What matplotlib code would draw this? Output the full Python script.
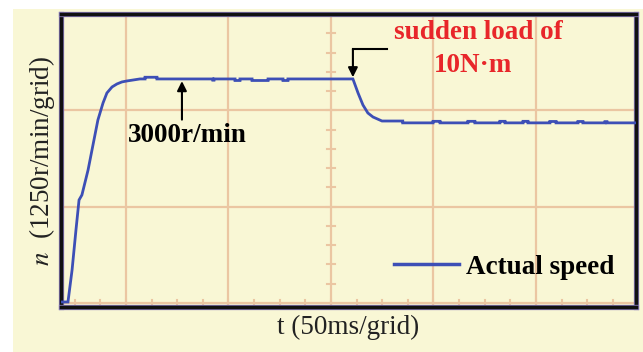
import numpy as np
import matplotlib
matplotlib.use("Agg")
import matplotlib.pyplot as plt
from matplotlib.patches import Rectangle
import matplotlib.patheffects as pe

plt.rcParams["font.family"] = ["Liberation Serif", "DejaVu Serif"]
plt.rcParams["mathtext.fontset"] = "stix"

# Measured speed trace: time in ms, speed in r/min
t_ms = [18.3, 21.7, 23.7, 25.6, 27.1, 28.5, 31.5, 33.9, 36.3, 38.8, 40.7,
        43.2, 45.6, 48.0, 50.5, 56.8,
        59.3, 59.3, 65.1, 65.1, 92.4, 92.4, 92.9, 92.9,
        103.2, 103.2, 105.6, 105.6, 111.5, 111.5, 119.3, 119.3,
        126.6, 126.6, 129.0, 129.0,
        160.7, 163.2, 165.6, 168.0, 170.5, 174.9,
        185.0, 185.0, 199.8, 199.8, 203.2, 203.2,
        216.8, 216.8, 220.2, 220.2, 232.4, 232.4, 234.9, 234.9,
        243.7, 243.7, 246.1, 246.1, 256.8, 256.8, 259.8, 259.8,
        270.5, 270.5, 272.9, 272.9, 283.7, 283.7, 284.6, 284.6, 298.8]
speed = [13, 13, 428, 948, 1337, 1402, 1726, 2051, 2375, 2596, 2726,
         2804, 2843, 2869, 2882, 2908,
         2908, 2930, 2930, 2908, 2908, 2892, 2892, 2908,
         2908, 2888, 2888, 2908, 2908, 2888, 2888, 2908,
         2908, 2888, 2888, 2908,
         2908, 2726, 2570, 2466, 2414, 2362,
         2362, 2338, 2338, 2358, 2358, 2338,
         2338, 2358, 2358, 2338, 2338, 2358, 2358, 2338,
         2338, 2358, 2358, 2338, 2338, 2356, 2356, 2338,
         2338, 2356, 2356, 2338, 2338, 2354, 2354, 2338, 2338]

series_label = "Actual speed"
x_label = "t (50ms/grid)"
y_label = r"$n$  (1250r/min/grid)"
load_line1 = "sudden load of"
load_line2 = "10N·m"
speed_text = "3000r/min"

# Scope scale: 50 ms per division, 1250 r/min per division
t_div, n_div = 50, 1250
t_range = (18.3, 298.8)
n_range = (-52, 3751)

bg = "#f9f7d5"
grid_c = "#ebc6a2"
line_c = "#3d4fb6"
fs = 19.5

fig = plt.figure(figsize=(6.43, 3.52), dpi=100, facecolor="white")
fig.patches.append(Rectangle((13 / 643, 0), 1, 343 / 352, transform=fig.transFigure,
                             facecolor=bg, edgecolor="none", zorder=-5))
ax = fig.add_axes([61 / 643, 45 / 352, 575 / 643, 293 / 352])
ax.set_zorder(2)
ax.set_facecolor(bg)
ax.set_xlim(*t_range)
ax.set_ylim(*n_range)

# Division grid
for tv in np.arange(t_div, t_range[1], t_div):
    ax.axvline(tv, color=grid_c, lw=1.6, zorder=1)
for nv in np.arange(0, n_range[1], n_div):
    ax.axhline(nv, color=grid_c, lw=1.6, zorder=1)

# Sub-division tick marks on the bottom line and the centre vertical line
t_center = 150
for tv in np.arange(t_div / 2, t_range[1], t_div / 4):
    ax.plot([tv, tv], [-45, 45], color=grid_c, lw=1.5, zorder=1)
for nv in np.arange(n_div / 5, n_range[1], n_div / 5):
    ax.plot([t_center - 2, t_center + 2], [nv, nv], color=grid_c, lw=1.5, zorder=1)

ax.plot(t_ms, speed, color=line_c, lw=2.0, zorder=3, label=series_label,
        solid_joinstyle="miter")

ax.set_xticks([])
ax.set_yticks([])
for s in ax.spines.values():
    s.set_color("#111111")
    s.set_linewidth(2.4)
    s.set_path_effects([pe.withStroke(linewidth=3.8, foreground="#8a7cbf"), pe.Normal()])

ax.set_xlabel(x_label, fontsize=fs, labelpad=6, color="#222222")
ax.set_ylabel(y_label, fontsize=fs, labelpad=3, color="#222222")

# Annotations
ax.annotate("", xy=(77.3, 2880), xytext=(77.3, 2380),
            arrowprops=dict(arrowstyle="-|>", color="black", lw=1.5,
                            mutation_scale=14, shrinkA=0, shrinkB=0), zorder=4)
ax.text(80.0, 2170, speed_text, fontsize=fs, fontweight="bold",
        ha="center", va="center", color="black", zorder=4)

ax.plot([177.3, 160.7], [3297, 3297], color="black", lw=1.5, zorder=4)
ax.annotate("", xy=(160.7, 2930), xytext=(160.7, 3297),
            arrowprops=dict(arrowstyle="-|>", color="black", lw=1.5,
                            mutation_scale=14, shrinkA=0, shrinkB=0), zorder=4)
ax.text(221.7, 3505, load_line1, fontsize=fs, fontweight="bold", color="#e8262a",
        ha="center", va="center", zorder=4)
ax.text(219.3, 3089, load_line2, fontsize=fs, fontweight="bold", color="#e8262a",
        ha="center", va="center", zorder=4)

leg = ax.legend(loc="center left", bbox_to_anchor=((394 - 61) / 575, 40 / 293),
                frameon=False, borderpad=0, borderaxespad=0, handlelength=2.4,
                handletextpad=0.27, prop=dict(size=fs, weight="bold"))
for h in leg.get_lines():
    h.set_linewidth(2.5)

fig.savefig("out.png", dpi=100, facecolor=fig.get_facecolor())
